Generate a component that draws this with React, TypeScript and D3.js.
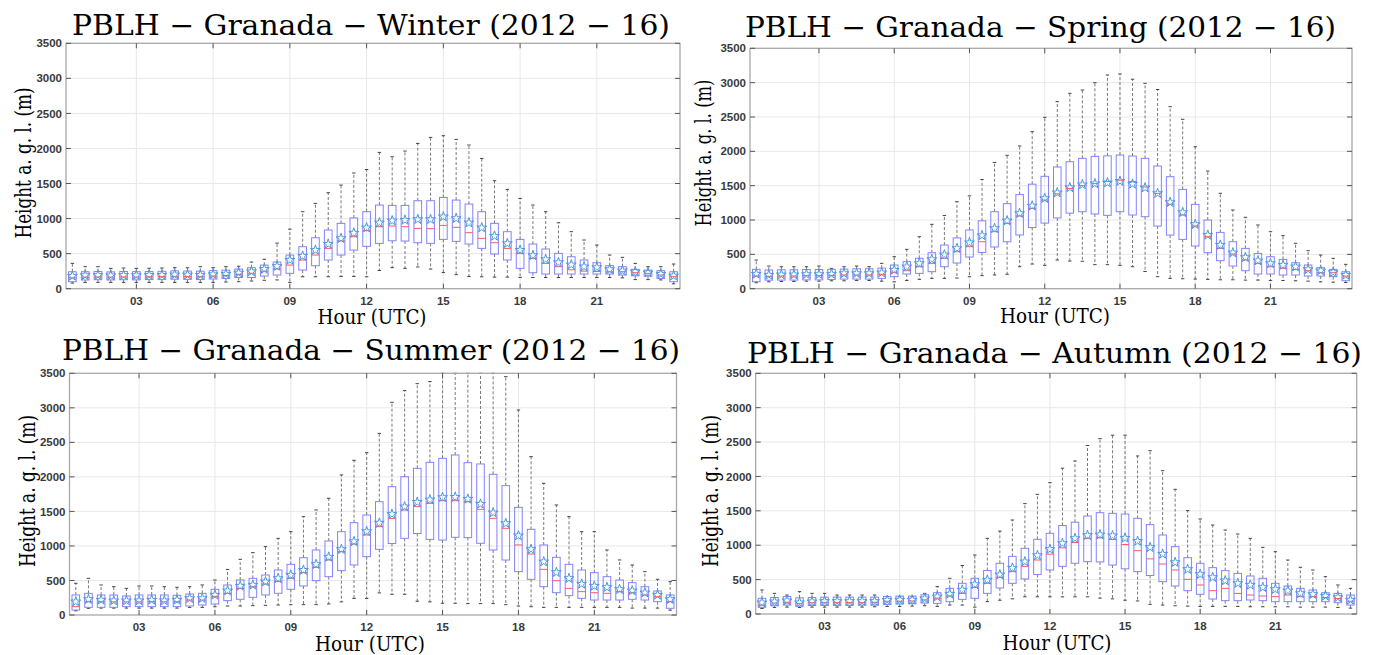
import React from "react";
import * as d3 from "d3";

// ---------- categories / ticks ----------
const HOURS = [
  0.5, 1, 1.5, 2, 2.5, 3, 3.5, 4, 4.5, 5, 5.5, 6, 6.5, 7, 7.5, 8, 8.5, 9, 9.5, 10, 10.5, 11, 11.5, 12,
  12.5, 13, 13.5, 14, 14.5, 15, 15.5, 16, 16.5, 17, 17.5, 18, 18.5, 19, 19.5, 20, 20.5, 21, 21.5, 22, 22.5, 23, 23.5, 24,
];
const X_TICKS = [3, 6, 9, 12, 15, 18, 21];
const X_TICK_LABELS = ["03", "06", "09", "12", "15", "18", "21"];
const Y_TICKS = [0, 500, 1000, 1500, 2000, 2500, 3000, 3500];

// ---------- Winter ----------
const WINTER_MEAN = [181,190,192,188,192,190,193,195,200,198,195,204,210,226,245,278,320,409,466,551,637,718,795,870,941,970,979,989,989,1027,1003,941,870,751,646,551,475,418,375,342,314,304,276,257,242,228,209,185];
const WINTER_MEDIAN = [155,165,168,165,168,166,170,172,176,175,172,180,188,205,220,250,280,337,409,480,575,680,741,827,884,894,884,860,856,903,875,799,718,656,575,504,433,361,314,270,250,245,240,242,228,219,195,171];
const WINTER_Q1 = [100,124,128,125,128,126,130,130,135,133,130,138,145,160,160,180,195,219,266,328,409,480,551,604,646,684,680,656,646,703,675,637,575,494,409,290,228,209,209,209,209,209,209,195,185,180,147,100];
const WINTER_Q3 = [242,242,245,240,245,243,245,248,255,252,250,258,265,280,300,337,380,480,599,727,837,932,1010,1098,1193,1188,1188,1255,1255,1302,1264,1207,1098,932,813,703,637,566,504,456,409,371,328,314,276,266,257,242];
const WINTER_HIGH = [361,314,314,290,295,290,292,295,300,298,314,300,314,320,380,420,650,850,1098,1217,1369,1478,1650,1700,1944,1882,1963,2072,2158,2182,2129,2049,1858,1540,1416,1288,1193,1098,941,813,694,623,480,447,361,314,314,352];
const WINTER_LOW = [80,90,90,90,90,90,90,90,90,90,90,90,95,100,110,120,125,90,170,170,170,175,175,170,260,300,290,310,280,230,200,175,170,165,165,160,160,160,160,160,160,160,160,155,130,130,125,70];

// ---------- Spring ----------
const SPRING_MEAN = [214,199,204,204,209,209,214,223,223,223,233,272,320,369,427,495,587,672,775,879,990,1097,1206,1315,1398,1473,1515,1530,1543,1565,1524,1470,1388,1257,1111,937,781,636,524,456,408,369,345,320,281,262,238,199];
const SPRING_MEDIAN = [185,180,185,185,190,190,195,200,200,200,210,240,262,320,369,442,539,612,684,830,951,1058,1170,1291,1380,1460,1500,1530,1560,1580,1560,1480,1388,1230,1073,913,757,587,505,417,369,320,296,281,262,233,233,184];
const SPRING_Q1 = [102,124,125,125,128,128,135,140,140,140,150,175,214,223,248,320,374,461,527,607,684,782,890,955,1030,1100,1121,1088,1068,1121,1073,1048,912,781,718,621,524,408,330,262,214,214,199,199,184,184,175,116];
const SPRING_Q3 = [282,272,275,275,280,280,282,285,290,290,300,345,393,442,524,636,740,855,988,1121,1238,1370,1522,1636,1772,1849,1898,1927,1934,1946,1932,1898,1786,1631,1446,1228,1000,820,684,587,514,466,427,378,345,306,281,247];
const SPRING_HIGH = [417,330,320,320,320,330,296,320,330,320,369,466,573,757,937,1065,1267,1352,1590,1838,1942,2078,2286,2495,2723,2845,2893,2999,3111,3126,3050,2990,2900,2650,2466,2067,1713,1389,1146,1040,927,830,772,661,553,490,442,355];
const SPRING_LOW = [87,100,105,105,110,110,115,115,120,120,110,100,120,136,150,150,155,175,190,200,210,320,359,340,418,403,400,350,350,340,320,250,175,150,145,140,135,130,130,125,125,120,120,115,110,100,95,90];

// ---------- Summer ----------
const SUMMER_MEAN = [193,227,217,208,208,208,217,208,217,241,241,290,352,420,435,483,531,579,650,734,840,951,1065,1210,1333,1460,1569,1635,1670,1704,1708,1680,1607,1482,1327,1149,951,772,618,531,449,420,401,372,352,323,290,227];
const SUMMER_MEDIAN = [121,193,193,190,190,190,193,190,193,217,217,266,314,386,410,449,483,531,613,690,797,917,1028,1159,1279,1400,1521,1569,1617,1656,1656,1640,1530,1400,1255,1014,883,661,497,386,338,323,314,338,323,290,266,193];
const SUMMER_Q1 = [72,111,111,111,121,121,121,121,121,130,145,159,208,227,256,290,314,372,420,497,555,642,724,845,951,1035,1110,1180,1095,1085,1125,1120,1038,941,796,628,517,410,323,280,241,217,217,217,227,217,193,97];
const SUMMER_Q3 = [290,314,290,290,275,290,290,290,285,304,314,372,434,507,531,579,652,734,830,941,1072,1207,1337,1448,1641,1858,2003,2124,2211,2269,2317,2206,2187,2037,1873,1559,1241,1014,835,734,652,613,555,507,468,410,348,290];
const SUMMER_HIGH = [459,531,435,410,386,420,420,410,401,410,435,507,660,806,903,990,1110,1207,1424,1521,1690,2028,2240,2350,2630,3080,3250,3350,3380,3500,3500,3500,3500,3500,3451,2969,2293,1907,1593,1424,1207,1207,941,797,724,628,517,483];
const SUMMER_LOW = [60,97,100,100,100,100,100,100,100,110,110,120,130,130,135,140,145,150,150,150,160,190,240,240,320,300,300,200,190,170,170,165,165,165,150,130,120,110,110,110,110,110,110,110,100,100,100,70];

// ---------- Autumn ----------
const AUTUMN_MEAN = [165,179,194,165,180,185,185,185,185,185,200,205,205,225,252,291,350,430,495,572,669,761,852,942,1028,1100,1144,1154,1140,1105,1059,969,872,751,650,577,533,485,446,422,388,359,339,300,286,262,242,204];
const AUTUMN_MEDIAN = [131,160,170,150,165,165,165,165,165,170,185,185,190,205,230,262,300,388,446,533,616,693,785,870,962,1040,1100,1108,1083,1010,921,802,727,640,504,422,339,373,300,276,262,252,276,252,252,240,225,185];
const AUTUMN_Q1 = [97,120,130,115,125,125,125,125,128,130,140,145,150,160,155,179,213,228,300,378,446,510,575,640,693,737,761,757,712,657,616,560,470,407,339,286,218,194,194,204,194,179,179,179,179,179,165,131];
const AUTUMN_Q3 = [228,240,255,235,240,245,245,245,245,245,255,260,260,280,310,373,446,519,632,737,838,955,1086,1173,1287,1335,1425,1473,1464,1454,1391,1300,1149,979,819,737,674,630,591,553,519,446,407,373,349,310,300,276];
const AUTUMN_HIGH = [349,300,276,325,300,300,276,276,276,276,252,252,252,300,398,519,705,858,1100,1205,1367,1605,1740,1910,2120,2225,2450,2550,2600,2600,2298,2375,2084,1813,1503,1381,1294,1221,1163,1100,969,906,785,679,640,543,422,373];
const AUTUMN_LOW = [80,95,100,95,100,100,100,100,100,105,110,110,115,120,110,130,130,100,180,200,220,250,250,250,250,250,250,230,220,200,190,140,130,120,115,110,110,110,110,105,105,105,105,100,100,100,95,85];

const TITLES = [
  "PBLH − Granada − Winter (2012 − 16)",
  "PBLH − Granada − Spring (2012 − 16)",
  "PBLH − Granada − Summer (2012 − 16)",
  "PBLH − Granada − Autumn (2012 − 16)",
];
const Y_LABEL = "Height a. g. l. (m)";
const X_LABEL = "Hour (UTC)";

// ---------- layout (positions only) ----------
const LAYOUT = [
  { left: 66, right: 680, top: 43.3, bottom: 288.7, tX: 72, tY: 35, tW: 598, yX: 31, yY: 163, yW: 151, xX: 372, xY: 324, xW: 109 },
  { left: 750, right: 1352, top: 48.3, bottom: 288.7, tX: 745, tY: 37, tW: 591, yX: 711, yY: 153, yW: 147, xX: 1055, xY: 323, xW: 110 },
  { left: 69.5, right: 676.5, top: 373.3, bottom: 615, tX: 62, tY: 360, tW: 618, yX: 35, yY: 491, yW: 152, xX: 370, xY: 651, xW: 110 },
  { left: 755.7, right: 1356.7, top: 373.3, bottom: 614, tX: 747, tY: 363, tW: 615, yX: 718, yY: 491, yW: 152, xX: 1057, xY: 650, xW: 109 },
];

const SERIES = [
  { mean: WINTER_MEAN, median: WINTER_MEDIAN, q1: WINTER_Q1, q3: WINTER_Q3, hi: WINTER_HIGH, lo: WINTER_LOW },
  { mean: SPRING_MEAN, median: SPRING_MEDIAN, q1: SPRING_Q1, q3: SPRING_Q3, hi: SPRING_HIGH, lo: SPRING_LOW },
  { mean: SUMMER_MEAN, median: SUMMER_MEDIAN, q1: SUMMER_Q1, q3: SUMMER_Q3, hi: SUMMER_HIGH, lo: SUMMER_LOW },
  { mean: AUTUMN_MEAN, median: AUTUMN_MEDIAN, q1: AUTUMN_Q1, q3: AUTUMN_Q3, hi: AUTUMN_HIGH, lo: AUTUMN_LOW },
];

const SERIF = "'DejaVu Serif', 'Liberation Serif', serif";
const SANS = "'Liberation Sans', Arial, sans-serif";

function Panel({ L, S, title }: any) {
  const x = d3.scaleLinear().domain([0.25, 24.25]).range([L.left, L.right]);
  const y = d3.scaleLinear().domain([0, 3500]).range([L.bottom, L.top]);
  const bw = x(0.3) - x(0);
  const cw = bw * 0.45;
  const starPath = d3.symbol().type(d3.symbolStar).size(30)() as string;
  const tickLen = 5;

  return (
    <g>
      <text x={L.tX} y={L.tY} fontFamily={SERIF} fontSize={28} fill="#000" textLength={L.tW} lengthAdjust="spacingAndGlyphs">
        {title}
      </text>
      <rect x={L.left} y={L.top} width={L.right - L.left} height={L.bottom - L.top} fill="#fff" />
      {Y_TICKS.slice(1, -1).map((t) => (
        <line key={"gy" + t} x1={L.left} x2={L.right} y1={y(t)} y2={y(t)} stroke="#e8e8e8" strokeWidth={1} />
      ))}
      {X_TICKS.map((t) => (
        <line key={"gx" + t} x1={x(t)} x2={x(t)} y1={L.top} y2={L.bottom} stroke="#e8e8e8" strokeWidth={1} />
      ))}
      {HOURS.map((h, i) => (
        <g key={"w" + i}>
          <line x1={x(h)} x2={x(h)} y1={y(S.q3[i])} y2={y(S.hi[i])} stroke="#6a6a6a" strokeWidth={0.9} strokeDasharray="3,2" />
          <line x1={x(h)} x2={x(h)} y1={y(S.q1[i])} y2={y(S.lo[i])} stroke="#6a6a6a" strokeWidth={0.9} strokeDasharray="3,2" />
          <line x1={x(h) - cw / 2} x2={x(h) + cw / 2} y1={y(S.hi[i])} y2={y(S.hi[i])} stroke="#444" strokeWidth={1} />
          <line x1={x(h) - cw / 2} x2={x(h) + cw / 2} y1={y(S.lo[i])} y2={y(S.lo[i])} stroke="#444" strokeWidth={1} />
        </g>
      ))}
      {HOURS.map((h, i) => (
        <rect
          key={"b" + i}
          x={x(h) - bw / 2}
          y={y(S.q3[i])}
          width={bw}
          height={y(S.q1[i]) - y(S.q3[i])}
          fill="none"
          stroke="#8282ff"
          strokeWidth={1}
        />
      ))}
      {HOURS.map((h, i) => (
        <line key={"m" + i} x1={x(h) - bw / 2} x2={x(h) + bw / 2} y1={y(S.median[i])} y2={y(S.median[i])} stroke="#ff5a5a" strokeWidth={1} />
      ))}
      {HOURS.map((h, i) => (
        <path key={"s" + i} d={starPath} transform={`translate(${x(h)},${y(S.mean[i])})`} fill="none" stroke="#4a98e0" strokeWidth={1} />
      ))}
      <rect x={L.left} y={L.top} width={L.right - L.left} height={L.bottom - L.top} fill="none" stroke="#a8a8a8" strokeWidth={1.3} />
      {X_TICKS.map((t) => (
        <g key={"xt" + t}>
          <line x1={x(t)} x2={x(t)} y1={L.bottom} y2={L.bottom - tickLen} stroke="#555" strokeWidth={1} />
          <line x1={x(t)} x2={x(t)} y1={L.top} y2={L.top + tickLen} stroke="#555" strokeWidth={1} />
        </g>
      ))}
      {Y_TICKS.map((t) => (
        <g key={"yt" + t}>
          <line x1={L.left} x2={L.left + tickLen} y1={y(t)} y2={y(t)} stroke="#555" strokeWidth={1} />
          <line x1={L.right} x2={L.right - tickLen} y1={y(t)} y2={y(t)} stroke="#555" strokeWidth={1} />
        </g>
      ))}
      {X_TICKS.map((t, k) => (
        <text key={"xl" + t} x={x(t)} y={L.bottom + 16} textAnchor="middle" fontFamily={SANS} fontWeight="bold" fontSize={11.5} fill="#3a3a3a">
          {X_TICK_LABELS[k]}
        </text>
      ))}
      {Y_TICKS.map((t) => (
        <text key={"yl" + t} x={L.left - 4} y={y(t)} dy="0.36em" textAnchor="end" fontFamily={SANS} fontWeight="bold" fontSize={11.5} fill="#3a3a3a">
          {t}
        </text>
      ))}
      <text
        transform={`translate(${L.yX},${L.yY}) rotate(-90)`}
        textAnchor="middle"
        fontFamily={SERIF}
        fontSize={22}
        fill="#000"
        textLength={L.yW}
        lengthAdjust="spacingAndGlyphs"
      >
        {Y_LABEL}
      </text>
      <text x={L.xX} y={L.xY} textAnchor="middle" fontFamily={SERIF} fontSize={20} fill="#000" textLength={L.xW} lengthAdjust="spacingAndGlyphs">
        {X_LABEL}
      </text>
    </g>
  );
}

export default function App() {
  return (
    <svg
      width={1378}
      height={655}
      viewBox="0 0 1378 655"
      style={{ position: "absolute", left: 0, top: 0, background: "#fff" }}
    >
      <rect x={0} y={0} width={1378} height={655} fill="#fff" />
      {LAYOUT.map((L, k) => (
        <Panel key={k} L={L} S={SERIES[k]} title={TITLES[k]} />
      ))}
    </svg>
  );
}
